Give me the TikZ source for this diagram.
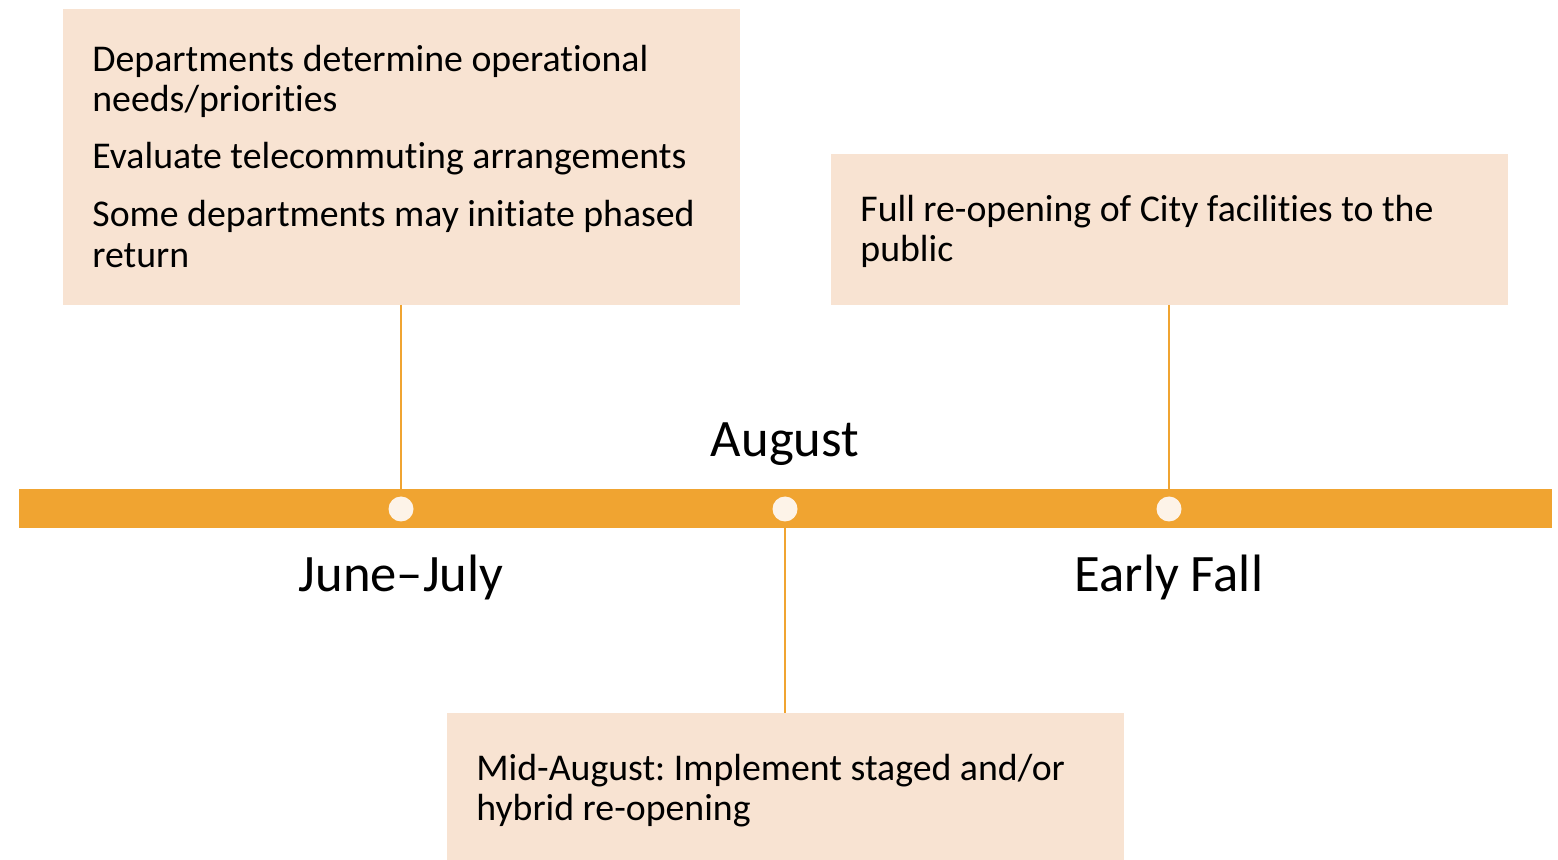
\documentclass[tikz,border=0pt]{standalone}
\usepackage{fontspec}
\setmainfont{Carlito}[Ligatures=NoCommon]
\frenchspacing
\definecolor{barorange}{HTML}{F0A431}
\definecolor{boxfill}{HTML}{F8E3D2}
\definecolor{dotfill}{HTML}{FDF3E8}
\tikzset{
  card/.style={fill=boxfill, draw=none},
  txt/.style={anchor=base west, inner sep=0pt, font=\fontsize{18.9}{20}\selectfont, text=black},
  lbl/.style={anchor=base, inner sep=0pt, font=\fontsize{26.3}{30}\selectfont, text=black},
  dot/.style={circle, fill=dotfill, minimum size=12.5pt, inner sep=0pt, draw=none},
  stem/.style={draw=barorange, line width=1pt}
}
\begin{document}
\begin{tikzpicture}[x=0.5pt,y=-0.5pt]
\useasboundingbox (0,0) rectangle (1558,860);
% boxes
\fill[card] (63,9) rectangle (740,305);
\fill[card] (831,154) rectangle (1508,305);
\fill[card] (447,713) rectangle (1124,860);
\coordinate (b1) at (401,305);
\coordinate (b2) at (1169,305);
\coordinate (b3) at (785,713);
% bar
\fill[barorange] (19,489) rectangle (1552,528);
\coordinate (t1) at (401,489);
\coordinate (t2) at (1169,489);
\coordinate (t3) at (785,528);
% stems
\draw[stem] (b1) -- (t1);
\draw[stem] (b2) -- (t2);
\draw[stem] (t3) -- (b3);
% dots
\node[dot] (d1) at (401,509) {};
\node[dot] (d2) at (785,509) {};
\node[dot] (d3) at (1169,509) {};
% labels
\node[lbl] (l1) at (401,592) {June–July};
\node[lbl] (l2) at (785,457) {August};
\node[lbl] (l3) at (1169,592) {Early Fall};
% box 1 text
\node[txt] (a1) at (92,72) {Departments determine operational};
\node[txt] (a2) at (92,112) {needs/priorities};
\node[txt] (a3) at (92,169) {Evaluate telecommuting arrangements};
\node[txt] (a4) at (92,227) {Some departments may initiate phased};
\node[txt] (a5) at (92,268) {return};
% box 2 text
\node[txt] (c1) at (860,222) {Full re-opening of City facilities to the};
\node[txt] (c2) at (860,262) {public};
% box 3 text
\node[txt] (e1) at (476,780) {Mid-August: Implement staged and/or};
\node[txt] (e2) at (476,820) {hybrid re-opening};
\end{tikzpicture}
\end{document}
